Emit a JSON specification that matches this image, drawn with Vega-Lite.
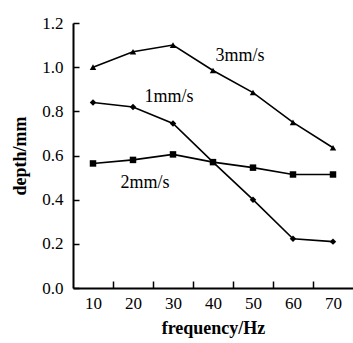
{
  "$schema": "https://vega.github.io/schema/vega-lite/v6.json",
  "width": 280,
  "height": 265,
  "autosize": "none",
  "padding": {"left": 73, "top": 23, "right": 0, "bottom": 55},
  "background": "white",
  "config": {
    "view": {"stroke": null},
    "font": "Liberation Serif",
    "axis": {"grid": false, "domainColor": "black", "tickColor": "black", "labelColor": "black", "titleColor": "black", "domainWidth": 2, "tickWidth": 1.5, "labelFont": "Liberation Serif", "titleFont": "Liberation Serif", "labelFontSize": 17, "titleFontSize": 18, "titleFontWeight": "bold"}
  },
  "datasets": {
    "series": [
      {"freq": 10, "depth": 1.0, "speed": "3mm/s"},
      {"freq": 20, "depth": 1.07, "speed": "3mm/s"},
      {"freq": 30, "depth": 1.1, "speed": "3mm/s"},
      {"freq": 40, "depth": 0.985, "speed": "3mm/s"},
      {"freq": 50, "depth": 0.885, "speed": "3mm/s"},
      {"freq": 60, "depth": 0.75, "speed": "3mm/s"},
      {"freq": 70, "depth": 0.635, "speed": "3mm/s"},
      {"freq": 10, "depth": 0.84, "speed": "1mm/s"},
      {"freq": 20, "depth": 0.82, "speed": "1mm/s"},
      {"freq": 30, "depth": 0.745, "speed": "1mm/s"},
      {"freq": 40, "depth": 0.57, "speed": "1mm/s"},
      {"freq": 50, "depth": 0.4, "speed": "1mm/s"},
      {"freq": 60, "depth": 0.223, "speed": "1mm/s"},
      {"freq": 70, "depth": 0.21, "speed": "1mm/s"},
      {"freq": 10, "depth": 0.564, "speed": "2mm/s"},
      {"freq": 20, "depth": 0.58, "speed": "2mm/s"},
      {"freq": 30, "depth": 0.605, "speed": "2mm/s"},
      {"freq": 40, "depth": 0.57, "speed": "2mm/s"},
      {"freq": 50, "depth": 0.545, "speed": "2mm/s"},
      {"freq": 60, "depth": 0.514, "speed": "2mm/s"},
      {"freq": 70, "depth": 0.514, "speed": "2mm/s"}
    ],
    "labels": [
      {"freq": 46.75, "depth": 1.05, "text": "3mm/s"},
      {"freq": 29, "depth": 0.865, "text": "1mm/s"},
      {"freq": 23, "depth": 0.477, "text": "2mm/s"}
    ]
  },
  "resolve": {"axis": {"x": "independent"}},
  "layer": [
    {
      "data": {"name": "series"},
      "mark": {"type": "line", "color": "black", "strokeWidth": 1.6, "point": {"filled": true, "color": "black", "size": 42}},
      "encoding": {
        "x": {"field": "freq", "type": "quantitative", "scale": {"domain": [5, 75], "nice": false, "zero": false},
          "axis": {"orient": "bottom", "values": [10, 20, 30, 40, 50, 60, 70], "ticks": false, "labelPadding": 7, "title": "frequency/Hz", "titlePadding": 8}},
        "y": {"field": "depth", "type": "quantitative", "scale": {"domain": [0, 1.2], "nice": false},
          "axis": {"values": [0, 0.2, 0.4, 0.6, 0.8, 1.0, 1.2], "format": ".1f", "tickSize": -6, "labelPadding": 16, "title": "depth/mm", "titlePadding": 12}},
        "shape": {"field": "speed", "type": "nominal", "scale": {"domain": ["1mm/s", "2mm/s", "3mm/s"], "range": ["diamond", "square", "triangle-up"]}, "legend": null},
        "detail": {"field": "speed"}
      }
    },
    {
      "data": {"name": "labels"},
      "mark": {"type": "text", "font": "Liberation Serif", "fontSize": 18, "color": "black"},
      "encoding": {
        "x": {"field": "freq", "type": "quantitative", "scale": {"domain": [5, 75], "nice": false, "zero": false},
          "axis": {"orient": "bottom", "values": [15, 25, 35, 45, 55, 65], "labels": false, "tickSize": -7, "domain": false, "title": null}},
        "y": {"field": "depth", "type": "quantitative"},
        "text": {"field": "text"}
      }
    }
  ]
}
